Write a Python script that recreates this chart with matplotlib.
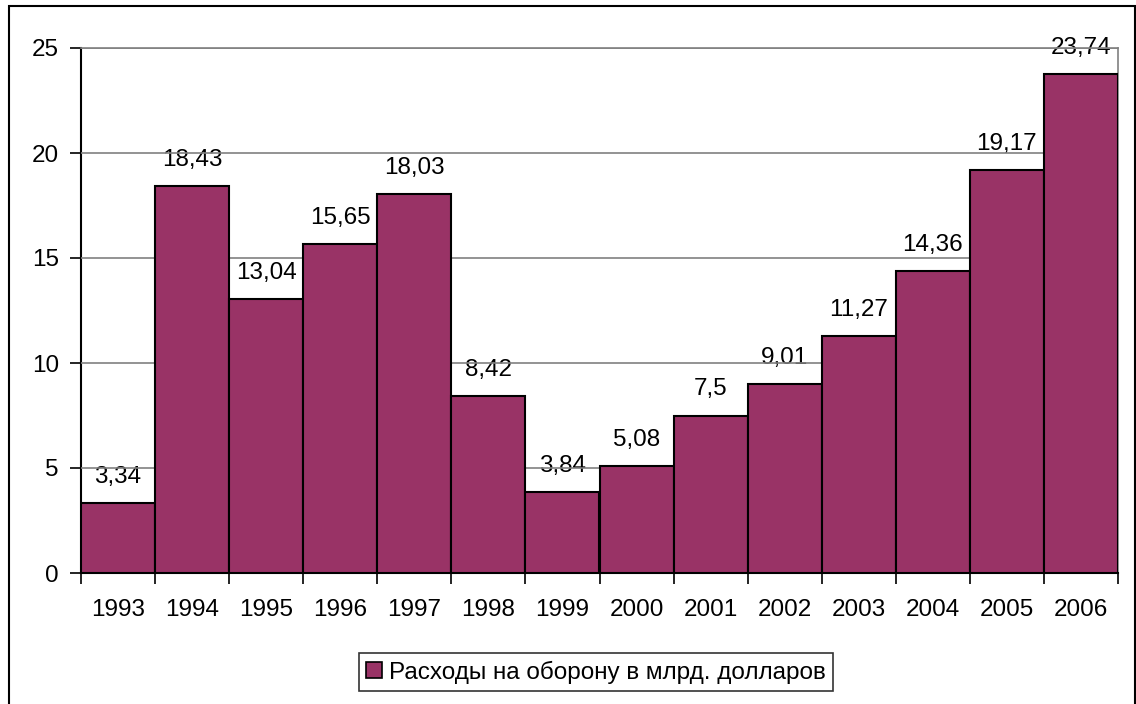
import matplotlib
matplotlib.use("Agg")
import matplotlib.pyplot as plt
from matplotlib.patches import Rectangle, Patch

years = ["1993", "1994", "1995", "1996", "1997", "1998", "1999", "2000",
         "2001", "2002", "2003", "2004", "2005", "2006"]
values = [3.34, 18.43, 13.04, 15.65, 18.03, 8.42, 3.84, 5.08,
          7.5, 9.01, 11.27, 14.36, 19.17, 23.74]
labels = ["3,34", "18,43", "13,04", "15,65", "18,03", "8,42", "3,84", "5,08",
          "7,5", "9,01", "11,27", "14,36", "19,17", "23,74"]
series_name = "Расходы на оборону в млрд. долларов"
yticks = [0, 5, 10, 15, 20, 25]

plt.rcParams['font.family'] = ['Liberation Sans', 'DejaVu Sans']
fs = 17.5

fig = plt.figure(figsize=(11.36, 7.04), dpi=100)
ax = fig.add_axes([81/1136, 1 - 573/704, (1118 - 81)/1136, (573 - 48)/704])

color = "#993366"
x = list(range(len(years)))
ax.bar(x, values, width=1.0, color=color, edgecolor="black", linewidth=1.5, zorder=3)

for xi, v, lab in zip(x, values, labels):
    ax.annotate(lab, (xi, v), xytext=(0, 11), textcoords="offset points",
                ha="center", va="bottom", fontsize=fs, zorder=2)

ax.set_xlim(-0.5, len(years) - 0.5)
ax.set_ylim(0, 25)
ax.set_yticks(yticks)
ax.set_yticklabels([str(t) for t in yticks], fontsize=fs)
ax.yaxis.grid(True, color="#808080", linewidth=1.2, zorder=4)
ax.set_axisbelow(False)

ax.set_xticks([i + 0.5 for i in range(-1, len(years))])
ax.set_xticklabels([])
ax.set_xticks(x, minor=True)
ax.set_xticklabels(years, minor=True, fontsize=fs)
ax.tick_params(axis="x", which="minor", length=0, pad=19)
ax.tick_params(axis="x", which="major", length=8, width=1.2, direction="out")
ax.tick_params(axis="y", length=8, width=1.2, direction="out", pad=8)

for s in ["top", "right"]:
    ax.spines[s].set_color("#808080")
    ax.spines[s].set_linewidth(1.2)
for s in ["left", "bottom"]:
    ax.spines[s].set_color("black")
    ax.spines[s].set_linewidth(1.5)
ax.spines["top"].set_zorder(5)

leg = fig.legend(handles=[Patch(facecolor=color, edgecolor="black", linewidth=1.2, label=series_name)],
                 loc="center", bbox_to_anchor=(596/1136, 1 - 672/704),
                 fontsize=fs, frameon=True, fancybox=False, handlelength=0.65,
                 handleheight=0.65, handletextpad=0.3, borderpad=0.3)
leg.get_frame().set_edgecolor("black")
leg.get_frame().set_linewidth(1.2)

fig.patches.append(Rectangle((9/1136, -0.01), (1135 - 9)/1136, 1.01 - 6/704,
                             transform=fig.transFigure, fill=False,
                             edgecolor="black", linewidth=1.5))

fig.savefig("out.png", dpi=100)
